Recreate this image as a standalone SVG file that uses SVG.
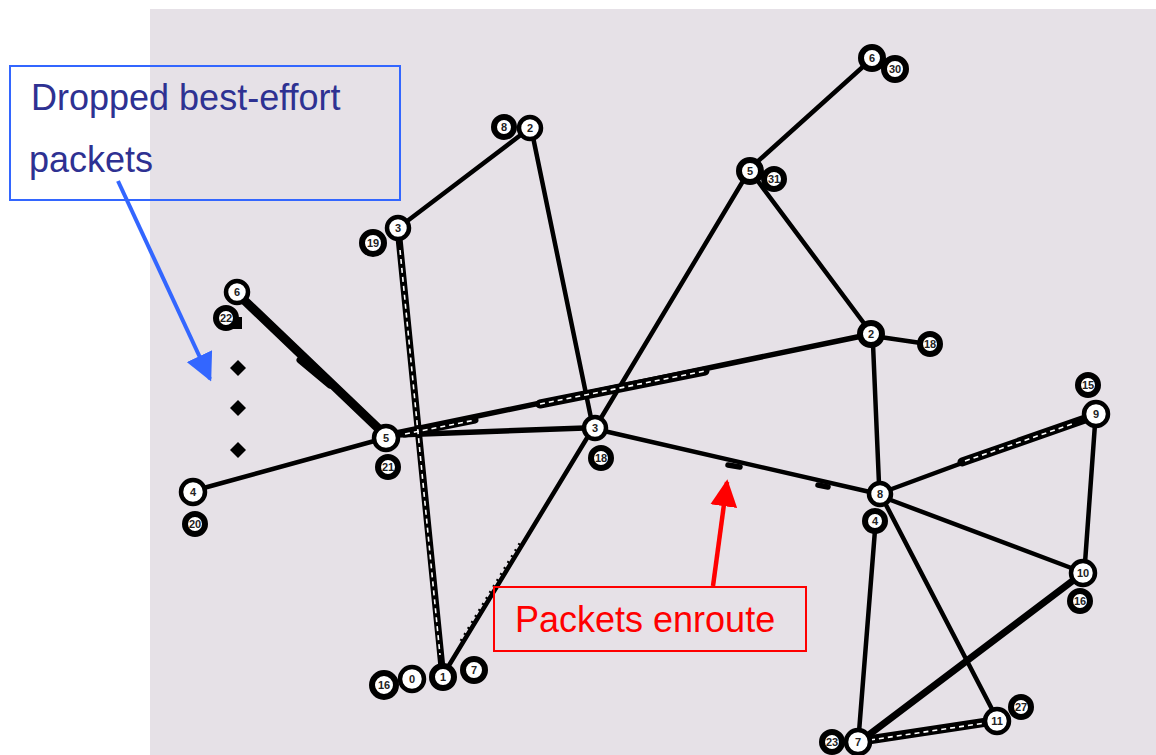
<svg xmlns="http://www.w3.org/2000/svg" width="1156" height="755" viewBox="0 0 1156 755">
  <defs>
    <style>
      .link { stroke: #000; stroke-linecap: round; fill: none; }
      .w4 { stroke-width: 4.5; }
      .w5 { stroke-width: 5.5; }
      .w7 { stroke-width: 7; }
      .w9 { stroke-width: 9; }
      .pk { stroke: #fff; stroke-width: 1.6; stroke-dasharray: 5 4; fill: none; }
      .tick { stroke: #000; stroke-width: 3; stroke-dasharray: 2 5; fill: none; }
      .node circle { fill: #fff; stroke: #000; stroke-width: 4.5; }
      .node.dark circle { stroke-width: 6; }
      .node text { font-family: "Liberation Sans", Arial, sans-serif; font-size: 11px; font-weight: bold; text-anchor: middle; fill: #222; }
      .note-blue { font-family: "Liberation Sans", Arial, sans-serif; font-size: 36px; fill: #2e3192; }
      .note-red { font-family: "Liberation Sans", Arial, sans-serif; font-size: 36px; fill: #ff0000; }
    </style>
    <marker id="blueHead" viewBox="0 0 10 10" refX="9" refY="5" markerWidth="7" markerHeight="7" orient="auto" markerUnits="strokeWidth">
      <path d="M0,0 L10,5 L0,10 z" fill="#3366ff"/>
    </marker>
    <marker id="redHead" viewBox="0 0 10 10" refX="9" refY="5" markerWidth="6" markerHeight="6" orient="auto" markerUnits="strokeWidth">
      <path d="M0,0 L10,5 L0,10 z" fill="#ff0000"/>
    </marker>
  </defs>

  <!-- plot background -->
  <rect x="150" y="9" width="1006" height="746" fill="#e6e1e7"/>

  <!-- links between nodes -->
  <g id="connectors">
    <line class="link w9" x1="244" y1="300" x2="380" y2="430"/>
    <line class="link w4" x1="200" y1="489" x2="378" y2="440"/>
    <line class="link w5" x1="396" y1="435" x2="585" y2="428"/>
    <line class="link w5" x1="396" y1="433" x2="862" y2="336"/>
    <line class="link w7" x1="399" y1="238" x2="442" y2="668"/>
    <line class="link w4" x1="406" y1="222" x2="522" y2="134"/>
    <line class="link w4" x1="533" y1="137" x2="591" y2="418"/>
    <line class="link w4" x1="743" y1="181" x2="601" y2="418"/>
    <line class="link w4" x1="756" y1="163" x2="866" y2="64"/>
    <line class="link w4" x1="757" y1="180" x2="866" y2="326"/>
    <line class="link w4" x1="880" y1="337" x2="921" y2="343"/>
    <line class="link w4" x1="873" y1="344" x2="879" y2="484"/>
    <line class="link w4" x1="604" y1="431" x2="870" y2="492"/>
    <line class="link w4" x1="587" y1="438" x2="448" y2="667"/>
    <line class="link w4" x1="889" y1="490" x2="1087" y2="417"/>
    <line class="link w4" x1="1095" y1="424" x2="1085" y2="563"/>
    <line class="link w4" x1="888" y1="499" x2="1074" y2="569"/>
    <line class="link w4" x1="875" y1="530" x2="859" y2="732"/>
    <line class="link w4" x1="885" y1="503" x2="993" y2="711"/>
    <line class="link w7" x1="1075" y1="579" x2="866" y2="737"/>
    <line class="link w9" x1="868" y1="740" x2="987" y2="722"/>

    <!-- queued packets along busy links -->
    <line class="link w9" x1="540" y1="404" x2="705" y2="371"/>
    <line class="pk" x1="540" y1="404" x2="705" y2="371"/>
    <line class="link w7" x1="405" y1="434" x2="475" y2="420"/>
    <line class="pk" x1="405" y1="434" x2="475" y2="420"/>
    <line class="pk" x1="400" y1="250" x2="440" y2="655"/>
    <line class="pk" x1="870" y1="740" x2="985" y2="723"/>
    <line class="link w9" x1="962" y1="462" x2="1085" y2="419"/>
    <line class="pk" x1="965" y1="461" x2="1075" y2="423"/>
    <line class="link w7" x1="300" y1="360" x2="330" y2="385"/>
    <line class="tick" x1="461" y1="641" x2="522" y2="540"/>
    <line class="link w5" x1="728" y1="465" x2="740" y2="467"/>
    <line class="link w5" x1="818" y1="485" x2="828" y2="487"/>
  </g>

  <!-- dropped best-effort packets -->
  <g id="dropped">
    <rect x="230" y="317" width="12" height="12" fill="#000"/>
    <path d="M238,360 L246,368 L238,376 L230,368 z" fill="#000"/>
    <path d="M238,400 L246,408 L238,416 L230,408 z" fill="#000"/>
    <path d="M238,442 L246,450 L238,458 L230,450 z" fill="#000"/>
  </g>

  <!-- routers -->
  <g id="n6a" class="node"><circle cx="237" cy="292" r="11"/><text x="237" y="296">6</text></g>
  <g id="n22" class="node dark"><circle cx="226" cy="318" r="10"/><text x="226" y="322">22</text></g>
  <g id="n5a" class="node"><circle cx="386" cy="438" r="12"/><text x="386" y="442">5</text></g>
  <g id="n21" class="node dark"><circle cx="388" cy="467" r="10"/><text x="388" y="471">21</text></g>
  <g id="n4a" class="node"><circle cx="193" cy="492" r="12"/><text x="193" y="496">4</text></g>
  <g id="n20" class="node dark"><circle cx="195" cy="524" r="10"/><text x="195" y="528">20</text></g>
  <g id="n19" class="node dark"><circle cx="373" cy="243" r="11"/><text x="373" y="247">19</text></g>
  <g id="n3a" class="node"><circle cx="398" cy="228" r="11"/><text x="398" y="232">3</text></g>
  <g id="n8a" class="node dark"><circle cx="504" cy="127" r="10"/><text x="504" y="131">8</text></g>
  <g id="n2a" class="node"><circle cx="530" cy="128" r="11"/><text x="530" y="132">2</text></g>
  <g id="n3b" class="node"><circle cx="595" cy="428" r="11"/><text x="595" y="432">3</text></g>
  <g id="n18a" class="node dark"><circle cx="601" cy="458" r="10"/><text x="601" y="462">18</text></g>
  <g id="n5b" class="node dark"><circle cx="750" cy="171" r="11"/><text x="750" y="175">5</text></g>
  <g id="n31" class="node dark"><circle cx="774" cy="179" r="10"/><text x="774" y="183">31</text></g>
  <g id="n6b" class="node dark"><circle cx="872" cy="58" r="11"/><text x="872" y="62">6</text></g>
  <g id="n30" class="node dark"><circle cx="895" cy="69" r="11"/><text x="895" y="73">30</text></g>
  <g id="n2b" class="node dark"><circle cx="871" cy="334" r="11"/><text x="871" y="338">2</text></g>
  <g id="n18b" class="node dark"><circle cx="930" cy="344" r="10"/><text x="930" y="348">18</text></g>
  <g id="n15" class="node dark"><circle cx="1088" cy="385" r="10"/><text x="1088" y="389">15</text></g>
  <g id="n9" class="node"><circle cx="1096" cy="414" r="12"/><text x="1096" y="418">9</text></g>
  <g id="n8b" class="node"><circle cx="880" cy="494" r="11"/><text x="880" y="498">8</text></g>
  <g id="n4b" class="node dark"><circle cx="875" cy="521" r="10"/><text x="875" y="525">4</text></g>
  <g id="n10" class="node"><circle cx="1083" cy="573" r="12"/><text x="1083" y="577">10</text></g>
  <g id="n16a" class="node dark"><circle cx="1080" cy="601" r="10"/><text x="1080" y="605">16</text></g>
  <g id="n23" class="node dark"><circle cx="832" cy="742" r="10"/><text x="832" y="746">23</text></g>
  <g id="n7a" class="node"><circle cx="858" cy="742" r="12"/><text x="858" y="746">7</text></g>
  <g id="n11" class="node"><circle cx="997" cy="721" r="12"/><text x="997" y="725">11</text></g>
  <g id="n27" class="node dark"><circle cx="1021" cy="707" r="10"/><text x="1021" y="711">27</text></g>
  <g id="n16b" class="node dark"><circle cx="384" cy="685" r="12"/><text x="384" y="689">16</text></g>
  <g id="n0" class="node"><circle cx="412" cy="679" r="12"/><text x="412" y="683">0</text></g>
  <g id="n1" class="node dark"><circle cx="443" cy="677" r="11"/><text x="443" y="681">1</text></g>
  <g id="n7b" class="node dark"><circle cx="474" cy="670" r="11"/><text x="474" y="674">7</text></g>

  <!-- callouts -->
  <g id="note-dropped">
    <rect x="10" y="66" width="390" height="134" fill="none" stroke="#3366ff" stroke-width="2"/>
    <text class="note-blue" x="31" y="110">Dropped best-effort</text>
    <text class="note-blue" x="29" y="172">packets</text>
    <line x1="118" y1="181" x2="210" y2="379" stroke="#3366ff" stroke-width="4" marker-end="url(#blueHead)"/>
  </g>
  <g id="note-enroute">
    <rect x="494" y="587" width="312" height="64" fill="none" stroke="#ff0000" stroke-width="2"/>
    <text class="note-red" x="515" y="632">Packets enroute</text>
    <line x1="713" y1="586" x2="727" y2="482" stroke="#ff0000" stroke-width="4.5" marker-end="url(#redHead)"/>
  </g>
</svg>
